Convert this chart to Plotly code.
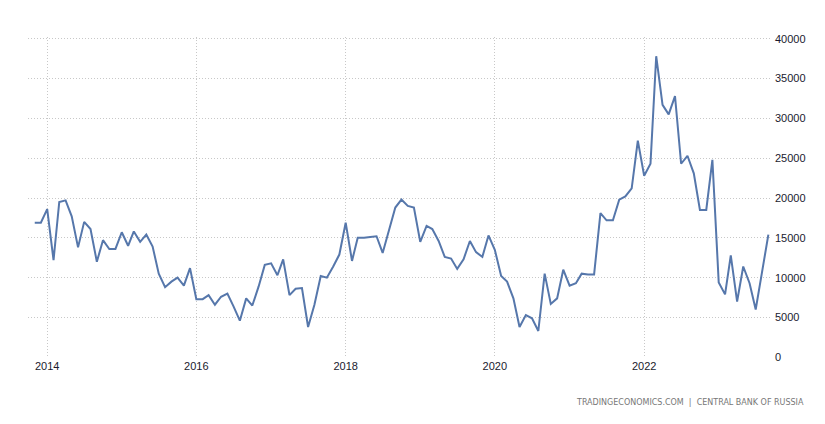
import pandas as pd
import plotly.graph_objects as go

start_month = "2013-11-01"
values = [
    16900, 16900,
    18600, 12200, 19500, 19700, 17700, 13800, 17000, 16100, 12000, 14700, 13600, 13600,
    15700, 14000, 15800, 14500, 15400, 13900, 10500, 8800, 9500, 10000, 9000, 11200,
    7300, 7300, 7800, 6600, 7600, 8000, 6400, 4600, 7400, 6500, 8900, 11600,
    11800, 10300, 12300, 7800, 8600, 8700, 3800, 6600, 10200, 10000, 11400, 12900,
    16900, 12100, 15000, 15000, 15100, 15200, 13100, 16000, 18800, 19800, 19000, 18800,
    14500, 16500, 16100, 14600, 12600, 12400, 11100, 12300, 14600, 13200, 12600, 15300,
    13500, 10200, 9500, 7400, 3800, 5300, 4900, 3300, 10500, 6700, 7400, 11000,
    9000, 9300, 10500, 10400, 10400, 18100, 17200, 17200, 19800, 20200, 21200, 27200,
    22800, 24300, 37800, 31700, 30500, 32800, 24300, 25300, 23100, 18500, 18500, 24800,
    9400, 7900, 12800, 7000, 11400, 9300, 6000, 10700, 15400,
]
dates = pd.date_range(start_month, periods=len(values), freq="MS")
y_ticks = [0, 5000, 10000, 15000, 20000, 25000, 30000, 35000, 40000]
source_text = "TRADINGECONOMICS.COM  |  CENTRAL BANK OF RUSSIA"

fig = go.Figure()
fig.add_trace(go.Scatter(
    x=dates, y=values, mode="lines",
    line=dict(color="#5677ab", width=2),
    hoverinfo="x+y",
))

grid = dict(showgrid=True, gridcolor="#c8c8c8", griddash="1px,2px", gridwidth=1,
            zeroline=False, showline=False, ticks="", automargin=False)

fig.update_layout(
    width=817, height=416,
    margin=dict(l=20, r=55, t=29, b=66),
    paper_bgcolor="white", plot_bgcolor="white",
    showlegend=False,
    font=dict(family="Liberation Sans, Arial, sans-serif", size=11, color="#222222"),
    xaxis=dict(
        type="date",
        range=["2013-09-29", "2023-09-09"],
        tick0="2014-01-01", dtick="M24", tickformat="%Y",
        tickfont=dict(size=11, color="#1a1a2e"),
        **grid,
    ),
    yaxis=dict(
        side="right",
        range=[-88, 40213],
        tickvals=y_ticks, tickformat="d",
        ticklabelstandoff=4,
        tickfont=dict(size=11, color="#1a1a2e"),
        **grid,
    ),
    annotations=[dict(
        text=source_text, xref="paper", yref="paper",
        x=(806 - 28) / 742, y=-0.138, xanchor="right", yanchor="middle",
        showarrow=False, font=dict(family="DejaVu Sans, sans-serif", size=8, color="#777777"),
    )],
)

fig.write_html("out.html")
